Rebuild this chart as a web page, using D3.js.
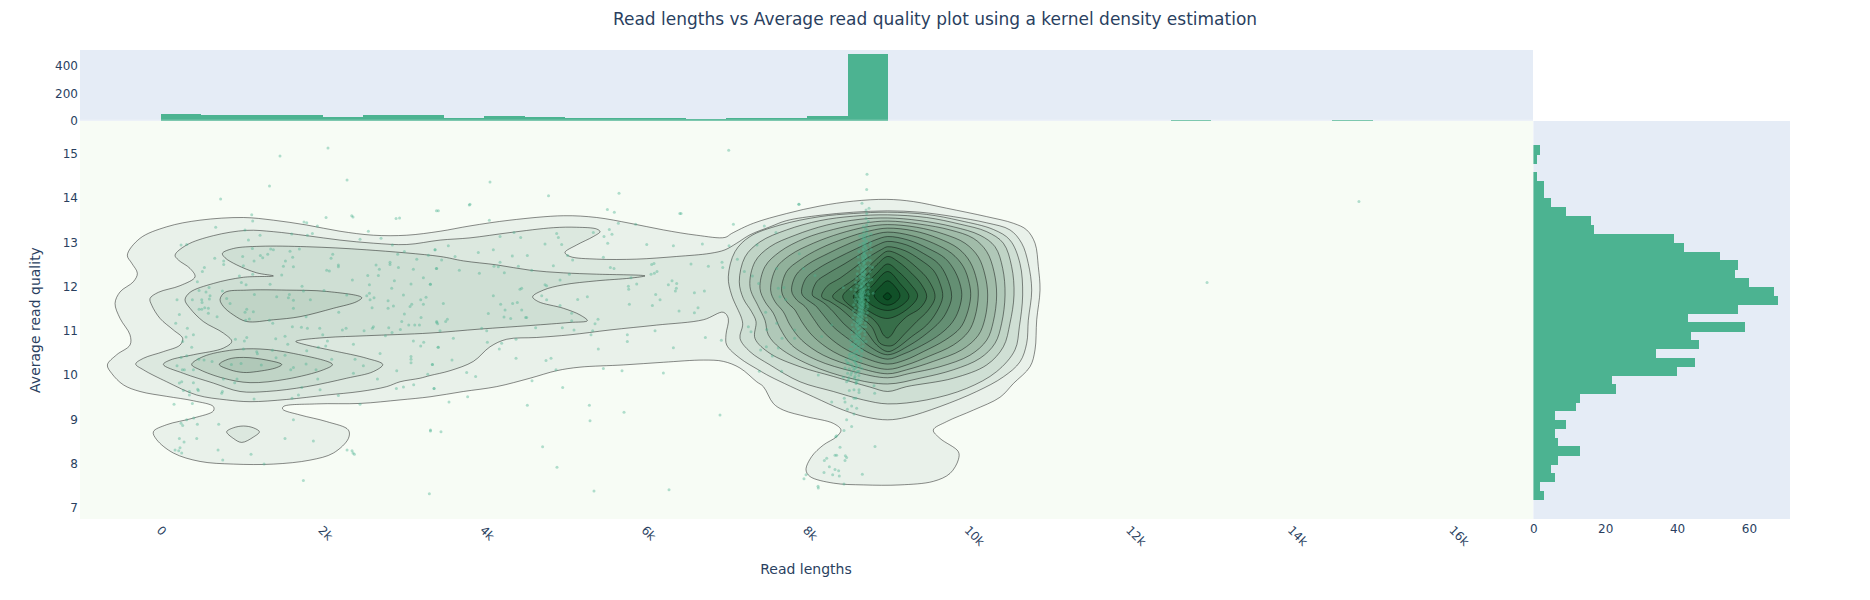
<!DOCTYPE html>
<html lang="en">
<head>
<meta charset="UTF-8">
<title>Read lengths vs Average read quality</title>
<style>
    body { margin: 0; background: #fff; }
    text { font-family: "DejaVu Sans", sans-serif; fill: #2a3f5f; }
    .axis .domain { display: none; }
    .axis line { display: none; }
</style>
</head>
<body>
<svg width="1870" height="600"></svg>
<script src="https://d3js.org/d3.v7.min.js"></script>
<script>
// histogram of read lengths, bins of 500 starting at 0
var lengthBinStart = 0, lengthBinSize = 500;
var lengthCounts = [48,41,41,41,26,41,41,19,33,26,19,19,19,12,19,19,34,485,0,0,0,0,0,0,0,1,0,0,0,1];
// histogram of average quality, bins of 0.2 starting at 7.2
var qualBinStart = 7.2, qualBinSize = 0.2;
var qualCounts = [3,2,6,5,7,13,7,6,9,6,12,13,23,22,40,45,34,46,44,59,43,57,68,67,60,56,57,52,42,39,17,16,9,5,3,3,1,0,1,2];

var xTicks = [0,2000,4000,6000,8000,10000,12000,14000,16000];
var yTicks = [7,8,9,10,11,12,13,14,15];
var topTicks = [0,200,400];
var rightTicks = [0,20,40,60];

// kde contour outlines, as [read length, quality]
var level1 = [[-417,12.72],[-260,13.10],[70,13.36],[483,13.51],[1020,13.57],[1391,13.51],[1804,13.40],[2216,13.26],[2629,13.17],[3042,13.17],[3455,13.26],[3825,13.38],[4320,13.51],[4981,13.61],[5394,13.57],[5806,13.44],[6219,13.29],[6632,13.17],[6982,13.12],[7065,13.21],[7333,13.44],[7745,13.66],[8158,13.83],[8571,13.94],[8984,13.98],[9314,13.93],[9726,13.78],[10222,13.59],[10552,13.44],[10717,13.29],[10820,12.99],[10861,12.46],[10882,11.93],[10841,11.26],[10820,10.58],[10758,10.20],[10552,9.82],[10387,9.51],[10057,9.22],[9726,8.96],[9561,8.77],[9644,8.58],[9871,8.28],[9871,8.10],[9768,7.79],[9561,7.61],[9149,7.53],[8695,7.53],[8323,7.57],[8034,7.72],[7985,7.87],[8055,8.17],[8199,8.43],[8364,8.62],[8418,8.77],[8323,8.92],[7993,9.07],[7704,9.22],[7580,9.37],[7457,9.75],[7374,9.86],[7168,10.17],[6962,10.32],[6714,10.35],[6219,10.30],[5724,10.24],[5187,10.19],[4898,10.11],[4568,9.94],[4155,9.75],[3743,9.64],[3330,9.52],[2959,9.45],[2464,9.37],[1928,9.36],[1515,9.30],[1507,9.24],[1721,9.11],[2051,8.96],[2320,8.77],[2320,8.58],[2134,8.25],[1845,8.09],[1391,8.00],[896,8.00],[483,8.06],[153,8.25],[-53,8.55],[-95,8.73],[70,8.89],[401,9.04],[648,9.20],[648,9.30],[401,9.43],[70,9.53],[-260,9.64],[-466,9.79],[-611,10.05],[-664,10.24],[-549,10.47],[-384,10.69],[-384,10.92],[-507,11.29],[-569,11.63],[-507,11.89],[-342,12.12],[-293,12.31],[-363,12.54]];
var level2 = [[174,12.72],[318,12.95],[648,13.16],[1061,13.28],[1391,13.25],[1804,13.16],[2216,13.06],[2629,12.99],[3042,12.96],[3455,13.06],[3825,13.11],[4320,13.23],[4857,13.34],[5146,13.35],[5394,13.31],[5435,13.25],[5352,13.14],[5146,12.95],[5001,12.78],[5063,12.69],[5394,12.63],[5889,12.63],[6384,12.69],[6797,12.76],[6982,12.84],[7127,12.99],[7292,13.18],[7540,13.36],[7745,13.50],[8158,13.62],[8571,13.69],[8996,13.72],[9396,13.69],[9809,13.59],[10222,13.45],[10510,13.29],[10655,12.99],[10737,12.53],[10779,11.93],[10737,11.25],[10717,10.73],[10634,10.31],[10428,9.97],[10098,9.64],[9644,9.30],[9231,9.06],[8996,9.00],[8736,9.06],[8447,9.22],[8076,9.52],[7539,9.98],[7395,10.13],[7168,10.39],[7003,10.69],[6994,10.92],[7023,11.29],[6961,11.43],[6714,11.26],[6136,11.14],[5559,11.03],[5063,10.92],[4651,10.86],[4279,10.82],[4073,10.65],[3867,10.32],[3578,10.11],[3330,10.00],[3207,9.94],[2959,9.86],[2794,9.75],[2464,9.64],[2051,9.56],[1556,9.46],[1102,9.41],[813,9.45],[442,9.56],[70,9.86],[-218,10.13],[-313,10.26],[-218,10.39],[29,10.54],[236,10.69],[268,10.84],[153,11.03],[-12,11.29],[-115,11.59],[-136,11.74],[-33,11.88],[236,12.03],[421,12.23],[359,12.42],[215,12.61]];
var level2Lobe = [[813,8.73],[896,8.82],[1020,8.86],[1143,8.82],[1218,8.73],[1143,8.61],[999,8.49],[896,8.58]];
var level3Left = [[760,12.76],[896,12.87],[1226,12.92],[1804,12.91],[2547,12.84],[3455,12.69],[3743,12.59],[4155,12.50],[4568,12.38],[4981,12.32],[5394,12.29],[5971,12.26],[5992,12.25],[5806,12.20],[5394,12.14],[4981,12.05],[4733,11.93],[4601,11.78],[4671,11.67],[4981,11.52],[5187,11.37],[5278,11.24],[5063,11.20],[4568,11.13],[3949,11.05],[3330,10.96],[2547,10.90],[2051,10.86],[1721,10.80],[1668,10.77],[1804,10.69],[2134,10.56],[2547,10.39],[2745,10.25],[2629,10.09],[2299,9.94],[1804,9.75],[1309,9.64],[978,9.64],[648,9.83],[277,10.05],[29,10.25],[112,10.35],[401,10.47],[772,10.62],[875,10.77],[772,10.96],[524,11.22],[359,11.52],[297,11.71],[359,11.88],[648,12.08],[1020,12.22],[1391,12.25],[1185,12.32],[937,12.50],[793,12.66]];
var level4Upper = [[731,11.72],[793,11.88],[1061,11.93],[1556,11.93],[2051,11.90],[2485,11.76],[2423,11.67],[2134,11.52],[1721,11.33],[1391,11.26],[1061,11.22],[896,11.37],[772,11.56]];
var level4Lower = [[380,10.25],[524,10.43],[896,10.58],[1226,10.60],[1639,10.50],[2122,10.25],[2010,10.13],[1556,9.92],[1102,9.84],[772,9.94],[483,10.13]];
var level5Left = [[722,10.25],[834,10.37],[1020,10.41],[1309,10.35],[1494,10.25],[1432,10.18],[1185,10.09],[1020,10.07],[855,10.13]];
var level3 = [[7023,12.23],[7106,12.80],[7291,13.14],[7663,13.40],[8158,13.59],[8571,13.66],[8996,13.69],[9479,13.64],[9891,13.50],[10304,13.30],[10510,13.06],[10634,12.53],[10667,11.82],[10626,11.10],[10572,10.58],[10345,10.09],[9974,9.71],[9479,9.45],[8996,9.36],[8695,9.45],[8323,9.64],[7910,9.86],[7539,10.24],[7291,10.54],[7168,10.84],[7201,11.14],[7188,11.29],[7064,11.82]];
var level4 = [[7159,12.12],[7230,12.68],[7415,13.02],[7745,13.29],[8158,13.50],[8571,13.60],[8996,13.63],[9479,13.57],[9891,13.42],[10222,13.25],[10428,12.99],[10531,12.46],[10560,11.82],[10510,11.18],[10428,10.65],[10222,10.24],[9809,9.94],[9231,9.75],[8996,9.64],[8777,9.74],[8323,9.98],[7910,10.20],[7539,10.50],[7353,10.84],[7366,11.22],[7312,11.44],[7209,11.74]];
var level5 = [[7291,12.01],[7353,12.57],[7539,12.91],[7849,13.17],[8241,13.40],[8653,13.53],[8996,13.56],[9396,13.50],[9809,13.36],[10139,13.17],[10325,12.91],[10420,12.42],[10449,11.82],[10407,11.18],[10325,10.73],[10139,10.39],[9809,10.13],[9396,9.94],[8996,9.81],[8530,9.94],[8034,10.24],[7663,10.62],[7518,10.92],[7477,11.25],[7395,11.56]];
var level6 = [[7415,11.97],[7477,12.46],[7663,12.80],[7972,13.10],[8323,13.30],[8695,13.44],[8996,13.49],[9396,13.42],[9768,13.29],[10057,13.10],[10222,12.80],[10312,12.35],[10345,11.82],[10304,11.22],[10222,10.80],[10015,10.46],[9644,10.20],[9272,10.05],[8996,9.95],[8571,10.09],[8117,10.35],[7807,10.69],[7663,11.07],[7580,11.41],[7477,11.67]];
var level7 = [[7547,11.93],[7613,12.42],[7787,12.72],[8076,12.99],[8406,13.21],[8736,13.36],[8996,13.41],[9355,13.35],[9685,13.20],[9953,12.99],[10118,12.68],[10201,12.27],[10234,11.82],[10201,11.29],[10118,10.91],[9912,10.58],[9561,10.32],[9231,10.13],[8996,10.04],[8612,10.19],[8199,10.46],[7931,10.80],[7787,11.14],[7704,11.44],[7601,11.67]];
var level8 = [[7683,11.91],[7745,12.35],[7910,12.61],[8158,12.87],[8468,13.10],[8777,13.27],[8996,13.33],[9314,13.27],[9623,13.10],[9871,12.87],[10015,12.57],[10098,12.16],[10118,11.82],[10077,11.33],[9995,10.99],[9809,10.69],[9499,10.43],[9231,10.24],[8996,10.14],[8653,10.29],[8323,10.54],[8076,10.88],[7931,11.22],[7849,11.48],[7745,11.67]];
var level9 = [[7807,11.91],[7861,12.27],[8014,12.52],[8261,12.76],[8530,12.99],[8798,13.17],[8996,13.24],[9293,13.16],[9561,12.99],[9788,12.76],[9933,12.46],[10007,12.08],[10023,11.78],[9974,11.37],[9891,11.07],[9706,10.80],[9437,10.54],[9211,10.35],[8996,10.26],[8695,10.41],[8426,10.65],[8199,10.99],[8076,11.29],[7972,11.56],[7869,11.71]];
var level10 = [[7931,11.86],[7985,12.20],[8137,12.42],[8364,12.65],[8612,12.87],[8839,13.06],[8996,13.14],[9252,13.06],[9499,12.87],[9706,12.65],[9830,12.35],[9900,12.01],[9912,11.77],[9858,11.40],[9768,11.14],[9603,10.88],[9355,10.62],[9169,10.47],[8996,10.37],[8736,10.54],[8530,10.80],[8323,11.10],[8199,11.37],[8096,11.59],[7993,11.72]];
var level11 = [[8063,11.82],[8117,12.12],[8261,12.31],[8468,12.53],[8674,12.76],[8880,12.96],[8996,13.03],[9231,12.95],[9437,12.76],[9623,12.53],[9726,12.23],[9788,11.78],[9726,11.44],[9644,11.22],[9479,10.95],[9272,10.69],[8996,10.47],[8777,10.65],[8612,10.92],[8447,11.18],[8323,11.44],[8199,11.65],[8117,11.74]];
var level12 = [[8179,11.78],[8241,12.01],[8406,12.20],[8571,12.42],[8757,12.67],[8922,12.85],[8996,12.91],[9211,12.82],[9396,12.62],[9561,12.38],[9644,12.08],[9677,11.78],[9603,11.44],[9479,11.14],[9293,10.88],[9107,10.62],[8996,10.54],[8860,10.69],[8715,11.03],[8550,11.29],[8406,11.52],[8282,11.67]];
var level13 = [[8315,11.78],[8385,11.93],[8571,12.16],[8736,12.42],[8901,12.70],[8996,12.81],[9169,12.70],[9355,12.44],[9499,12.16],[9582,11.78],[9499,11.48],[9355,11.22],[9211,10.95],[9066,10.69],[8996,10.67],[8901,10.73],[8798,11.10],[8653,11.33],[8488,11.56]];
var level14 = [[8439,11.78],[8550,12.01],[8715,12.23],[8860,12.50],[8996,12.69],[9128,12.57],[9293,12.31],[9417,12.05],[9479,11.78],[9396,11.52],[9231,11.33],[9107,11.10],[9045,10.92],[8996,10.85],[8942,10.92],[8880,11.14],[8777,11.33],[8571,11.52]];
var level15 = [[8571,11.78],[8695,12.01],[8860,12.31],[8996,12.52],[9128,12.35],[9272,12.08],[9367,11.80],[9252,11.52],[8996,11.29],[8777,11.44]];
var level16 = [[8703,11.80],[8818,12.05],[8996,12.35],[9149,12.08],[9260,11.78],[9149,11.56],[8996,11.47],[8818,11.57]];
var level17 = [[8827,11.82],[8901,12.01],[8996,12.14],[9087,12.01],[9149,11.80],[9087,11.65],[8996,11.59],[8901,11.65]];
var level18 = [[8942,11.78],[8996,11.87],[9041,11.78],[8996,11.71]];

var contourRings = [
    [1,level1],[2,level2],[2,level2Lobe],[3,level3Left],[4,level4Upper],[4,level4Lower],[5,level5Left],
    [3,level3],[4,level4],[5,level5],[6,level6],[7,level7],[8,level8],[9,level9],[10,level10],
    [11,level11],[12,level12],[13,level13],[14,level14],[15,level15],[16,level16],[17,level17],[18,level18]
];

// scatter of single reads [read length, quality]
var readsLeft = [[1123,13.63],[1135,13.49],[677,13.35],[1040,13.29],[1226,13.17],[1082,13.06],[248,12.95],[318,12.96],[1804,13.45],[2043,13.57],[2361,13.61],[2910,13.55],[1936,13.38],[2567,13.26],[2724,13.10],[2464,13.08],[1874,13.21],[1812,13.17],[1618,13.20],[2864,12.95],[3013,12.80],[2930,12.74],[3310,12.72],[3393,12.84],[1131,12.87],[1358,12.86],[1391,12.84],[1597,12.81],[1713,12.86],[2126,12.74],[2105,12.65],[1630,12.67],[1321,12.74],[1230,12.71],[1259,12.66],[1011,12.69],[1152,12.59],[1540,12.59],[1515,12.47],[1639,12.46],[1020,12.48],[776,12.59],[776,12.51],[665,12.65],[537,12.44],[512,12.35],[970,12.25],[1135,12.29],[1494,12.27],[2051,12.38],[2084,12.36],[2196,12.50],[2196,12.46],[2662,12.50],[2703,12.40],[2835,12.56],[2835,12.51],[2939,12.44],[3124,12.40],[3166,12.63],[3413,12.42],[450,12.12],[995,12.10],[1053,12.05],[1350,12.06],[1746,12.02],[1763,11.91],[2018,11.92],[2369,12.16],[2559,12.26],[2691,12.26],[2580,12.05],[2856,11.97],[2889,12.14],[3095,12.07],[3248,12.21],[3335,12.06],[471,11.92],[557,11.89],[595,11.99],[760,11.91],[607,11.80],[599,11.73],[198,11.71],[388,11.71],[504,11.71],[508,11.65],[813,11.74],[855,11.63],[1156,11.83],[1432,11.78],[1589,11.83],[1577,11.76],[1639,11.70],[1849,11.71],[2299,11.82],[2547,11.80],[2580,11.86],[2637,11.76],[2588,11.71],[2811,11.69],[3001,11.82],[3215,11.71],[3281,11.77],[3248,11.61],[3104,11.61],[3083,11.56],[471,11.50],[504,11.50],[541,11.53],[586,11.52],[586,11.41],[227,11.38],[694,11.33],[1061,11.50],[1040,11.43],[1143,11.44],[1639,11.52],[1796,11.33],[2200,11.43],[2613,11.53],[2811,11.52],[2877,11.57],[3013,11.39],[3219,11.31],[182,11.18],[326,11.07],[401,10.92],[310,10.87],[268,10.77],[380,10.64],[1094,11.28],[1048,11.25],[1342,11.25],[1383,11.18],[1626,11.10],[1738,11.09],[1812,11.07],[1965,11.07],[2002,10.92],[2245,11.03],[2291,11.07],[2514,11.01],[2617,11.07],[2629,11.10],[2819,11.08],[2860,10.97],[2963,11.04],[2980,11.22],[3067,11.14],[3141,11.14],[3199,11.14],[3413,11.22],[921,10.82],[1061,10.86],[1032,10.78],[1420,10.83],[1535,10.89],[1569,10.71],[1804,10.56],[1948,10.64],[2039,10.67],[2060,10.78],[2382,10.71],[2778,10.90],[3124,10.78],[3252,10.75],[3215,10.67],[3434,10.64],[2712,10.50],[1020,10.60],[1185,10.54],[1193,10.49],[1379,10.57],[1535,10.46],[1424,10.40],[2113,10.37],[2402,10.37],[2505,10.22],[3095,10.43],[3095,10.37],[3095,10.29],[3360,10.25],[248,10.41],[318,10.45],[467,10.37],[533,10.35],[632,10.32],[871,10.25],[991,10.27],[1242,10.24],[1796,10.26],[1919,10.13],[1606,10.13],[1639,10.18],[198,10.22],[264,10.13],[289,10.13],[401,10.13],[2918,10.11],[3302,10.03],[2382,10.05],[2679,9.92],[1940,9.92],[772,9.92],[941,9.92],[912,9.84],[256,9.86],[227,9.83],[401,9.84],[351,9.64],[454,9.69],[462,9.66],[760,9.64],[751,9.60],[1742,9.73],[1969,9.68],[2914,9.71],[3001,9.74],[3128,9.79],[3380,9.71],[1701,9.56],[1622,9.49],[1152,9.47],[2196,9.55],[351,9.56],[277,9.66],[161,9.35],[388,9.37],[2464,9.35],[1639,9.00],[405,9.04],[318,9.00],[248,8.92],[268,8.87],[450,8.90],[714,8.90],[227,8.58],[285,8.50],[442,8.58],[1535,8.58],[1886,8.52],[3335,8.75],[235,8.37],[174,8.32],[219,8.30],[256,8.25],[706,8.32],[1114,8.22],[764,8.09],[1276,8.00],[2303,8.32],[2394,8.22],[1762,7.63],[3322,7.33]];
var readsMiddle = [[3433,13.72],[3817,13.85],[4065,13.51],[5526,13.75],[5612,13.69],[6438,13.66],[7086,13.42],[7469,13.38],[5662,13.44],[5876,13.42],[5352,13.23],[5550,13.30],[5484,13.14],[5583,13.19],[5530,12.99],[4898,13.21],[4919,13.12],[4453,13.12],[4197,13.14],[4370,13.23],[4754,12.97],[4960,12.96],[6013,12.96],[6343,12.93],[6702,12.97],[7032,12.93],[3557,12.93],[3392,12.84],[3928,12.78],[4114,12.84],[3640,12.69],[3474,12.61],[4349,12.70],[4535,12.71],[4197,12.56],[4122,12.47],[4176,12.46],[4424,12.47],[4857,12.48],[5034,12.71],[5096,12.61],[5476,12.67],[6074,12.51],[6103,12.53],[6561,12.52],[6776,12.47],[6945,12.56],[6954,12.44],[7135,12.63],[5563,12.44],[5608,12.42],[3408,12.42],[3693,12.38],[3941,12.31],[4250,12.32],[4589,12.38],[5055,12.29],[4940,12.16],[5819,12.21],[6066,12.29],[6107,12.31],[6140,12.35],[5889,12.07],[7222,12.35],[7321,12.25],[5786,12.02],[5790,11.95],[6326,12.14],[6384,12.08],[6281,12.05],[6380,11.97],[6368,11.91],[6603,11.87],[6727,11.91],[6124,11.83],[6178,11.71],[3334,12.06],[4754,12.05],[4774,12.03],[4444,11.95],[4465,11.97],[4114,11.80],[4713,11.80],[4774,11.71],[5158,11.72],[5278,11.78],[4205,11.61],[4353,11.63],[4411,11.65],[3495,11.63],[5798,11.61],[6083,11.58],[6648,11.53],[6603,11.42],[6413,11.46],[4259,11.48],[4465,11.48],[4940,11.58],[5084,11.41],[4052,11.40],[4246,11.32],[4329,11.29],[4514,11.31],[4527,11.31],[3545,11.27],[3524,11.22],[3413,11.20],[3425,11.17],[5084,11.24],[5410,11.27],[5373,11.17],[3970,11.07],[4032,11.01],[3454,11.01],[4638,11.08],[4968,11.08],[5113,11.03],[5344,11.01],[5323,10.92],[6116,11.01],[5773,10.92],[5773,10.77],[6739,10.86],[6937,10.80],[6343,10.63],[5414,10.60],[3619,10.84],[4040,10.75],[4217,10.73],[4395,10.82],[4188,10.60],[3429,10.64],[4395,10.39],[4828,10.39],[4766,10.34],[3602,10.35],[3359,10.25],[4890,10.13],[5476,10.16],[5707,10.11],[6219,10.06],[3784,10.07],[3895,9.98],[4593,9.88],[3380,9.71],[4973,9.73],[3796,9.52],[3565,9.40],[4535,9.33],[5303,9.33],[5732,9.17],[6920,9.11]];
var readsOutliers = [[2067,15.14],[1473,14.96],[2303,14.42],[1343,14.28],[738,13.99],[4073,14.37],[4797,14.06],[5670,14.12],[7028,15.09],[8740,14.55],[14830,13.93],[12950,12.10],[7900,13.87],[6423,13.66],[3410,13.72],[3825,13.87],[2953,13.56],[2377,13.58],[1770,13.47],[5360,7.39],[6289,7.42],[8134,7.50],[4902,7.93],[5311,8.98],[4724,8.39],[3336,8.77],[3466,8.73],[2365,8.30],[2377,8.25]];
var readsPeak = [[8736,14.20],[7894,13.87],[8678,13.89],[7613,13.23],[7378,12.95],[7399,12.08],[7642,11.97],[7712,11.99],[7663,11.78],[7733,11.72],[7485,11.43],[7622,11.18],[7271,11.10],[7304,10.99],[7498,11.04],[7844,11.03],[7844,10.84],[7688,10.84],[7494,10.65],[7642,10.62],[7423,10.58],[7568,10.44],[7407,10.10],[7683,10.10],[8137,10.01],[8303,11.14],[8179,10.88],[7902,12.75],[7952,12.42],[8096,12.26],[7622,12.42],[8839,8.40],[8682,7.77],[8455,7.55],[8137,7.46],[7960,7.67],[7985,7.76],[8208,7.81],[8315,7.76],[8397,7.73],[8344,7.88],[8389,7.85],[8274,7.94],[8241,8.13],[8212,8.08],[8344,8.20],[8364,8.20],[8468,8.08],[8488,8.15],[8472,8.19],[8406,8.38],[8352,8.62],[8364,8.64],[8455,8.76],[8550,8.85],[8488,9.00],[8579,9.13],[8612,9.26],[8550,9.31],[8497,9.24],[8303,9.40],[8459,9.49],[8468,9.40],[8579,9.49],[8604,9.49],[8579,9.68],[8641,9.68],[8641,9.62],[8521,9.66],[8835,9.60],[8827,9.77],[8612,9.84],[8488,9.86],[8447,9.96],[8468,10.17],[8480,10.35],[8818,11.86],[8810,12.44],[8798,12.17],[8447,11.99],[8542,11.95]];
var readsSwarm = [[8765,13.78],[8728,13.74],[8736,13.66],[8728,13.55],[8757,13.48],[8736,13.40],[8695,13.36],[8744,13.29],[8686,13.17],[8715,13.17],[8757,13.14],[8703,13.08],[8736,13.02],[8686,12.99],[8777,12.95],[8715,12.91],[8695,12.84],[8736,12.82],[8703,12.74],[8728,12.68],[8686,12.65],[8744,12.61],[8703,12.55],[8653,12.50],[8728,12.47],[8695,12.42],[8674,12.37],[8719,12.35],[8686,12.29],[8653,12.25],[8719,12.23],[8695,12.19],[8674,12.14],[8736,12.12],[8645,12.08],[8703,12.07],[8674,12.02],[8723,11.99],[8653,11.97],[8695,11.93],[8674,11.89],[8719,11.87],[8645,11.84],[8686,11.82],[8662,11.78],[8715,11.77],[8624,11.74],[8678,11.72],[8653,11.68],[8703,11.67],[8674,11.63],[8633,11.62],[8695,11.59],[8653,11.56],[8686,11.52],[8645,11.48],[8674,11.44],[8703,11.42],[8653,11.39],[8633,11.35],[8682,11.31],[8653,11.27],[8620,11.23],[8674,11.20],[8645,11.17],[8604,11.14],[8695,11.10],[8633,11.06],[8674,11.03],[8645,10.98],[8604,10.95],[8620,10.89],[8653,10.86],[8579,10.83],[8674,10.80],[8612,10.77],[8645,10.73],[8571,10.71],[8728,10.77],[8591,10.67],[8633,10.62],[8550,10.59],[8612,10.56],[8674,10.58],[8571,10.50],[8521,10.47],[8604,10.43],[8633,10.39],[8550,10.37],[8591,10.31],[8497,10.29],[8612,10.24],[8562,10.20],[8591,10.16],[8674,10.16],[8620,10.09],[8550,10.07],[8591,9.98],[8633,9.90],[8509,9.90],[8604,9.82]];
var readsSwarmCore = [[8722,13.31],[8700,13.24],[8735,13.21],[8712,13.12],[8690,13.10],[8728,13.05],[8705,13.00],[8718,12.96],[8698,12.93],[8730,12.88],[8690,12.86],[8712,12.79],[8700,12.76],[8722,12.71],[8682,12.70],[8710,12.66],[8695,12.62],[8718,12.58],[8680,12.57],[8705,12.53],[8692,12.50],[8715,12.46],[8672,12.44],[8702,12.40],[8685,12.38],[8712,12.33],[8668,12.32],[8698,12.30],[8680,12.27],[8708,12.26],[8665,12.21],[8690,12.20],[8702,12.17],[8678,12.16],[8660,12.12],[8712,12.10],[8688,12.10],[8670,12.05],[8698,12.04],[8680,12.00],[8662,12.00],[8708,11.96],[8688,11.95],[8672,11.92],[8652,11.91],[8698,11.90],[8680,11.86],[8660,11.86],[8705,11.84],[8668,11.81],[8690,11.80],[8650,11.80],[8678,11.76],[8696,11.75],[8660,11.74],[8640,11.71],[8685,11.70],[8668,11.69],[8695,11.65],[8648,11.65],[8675,11.62],[8690,11.60],[8660,11.60],[8640,11.58],[8680,11.56],[8668,11.55],[8695,11.54],[8650,11.52],[8672,11.49],[8638,11.47],[8685,11.46],[8660,11.45],[8672,11.41],[8640,11.40],[8690,11.38],[8660,11.37],[8622,11.37],[8672,11.33],[8642,11.32],[8665,11.28],[8620,11.28],[8688,11.26],[8640,11.24],[8660,11.22],[8612,11.20],[8650,11.18],[8630,11.15],[8668,11.12],[8612,11.10],[8645,11.08],[8625,11.05],[8660,11.00],[8600,11.00],[8638,10.96],[8618,10.92],[8650,10.90],[8595,10.88],[8630,10.85],[8605,10.80],[8640,10.78],[8590,10.75],[8625,10.70],[8600,10.66],[8650,10.64],[8580,10.62],[8620,10.55],[8590,10.52],[8640,10.50],[8600,10.45],[8565,10.42],[8615,10.36],[8580,10.33],[8600,10.27],[8545,10.25],[8610,10.19],[8575,10.13],[8600,10.05],[8540,10.02],[8585,9.94],[8605,9.88]];
var readsSwarmEdge = [[8790,13.20],[8650,13.15],[8785,13.00],[8650,12.95],[8790,12.85],[8640,12.80],[8775,12.72],[8630,12.68],[8780,12.60],[8640,12.55],[8770,12.48],[8625,12.42],[8778,12.35],[8620,12.30],[8760,12.24],[8610,12.20],[8770,12.15],[8600,12.10],[8755,12.05],[8615,12.02],[8765,11.98],[8600,11.94],[8750,11.90],[8590,11.85],[8760,11.84],[8610,11.80],[8745,11.76],[8590,11.72],[8755,11.70],[8600,11.66],[8740,11.62],[8575,11.60],[8750,11.56],[8595,11.52],[8730,11.50],[8570,11.46],[8745,11.42],[8590,11.38],[8725,11.35],[8565,11.30],[8735,11.26],[8580,11.22],[8720,11.18],[8555,11.15],[8725,11.10],[8570,11.05],[8710,11.00],[8550,10.97],[8715,10.93],[8560,10.88],[8700,10.84],[8535,10.80],[8695,10.75],[8550,10.70],[8690,10.66],[8530,10.60],[8680,10.55],[8540,10.50],[8670,10.44],[8525,10.40],[8665,10.33],[8510,10.28],[8650,10.22],[8520,10.15],[8640,10.10],[8500,10.05],[8640,10.00],[8515,9.95]];

var svg = d3.select("svg");

var x = d3.scaleLinear().domain([-1003, 16985]).range([80, 1533]);
var y = d3.scaleLinear().domain([6.76, 15.75]).range([519, 121]);
var yTop = d3.scaleLinear().domain([0, 514]).range([120.7, 50]);
var xRight = d3.scaleLinear().domain([0, 71.4]).range([1533.3, 1790]);

var barColor = "#4CB391";

var levelColor = d3.scaleLinear()
    .domain([0, 1, 3, 5, 8, 10, 13, 15, 18])
    .range(["#f7fcf5", "#e9f1ea", "#cfdfd4", "#b0c8b8", "#82a58c", "#648f73", "#467855", "#28643c", "#05461e"]);

// backgrounds
svg.append("rect").attr("x", 80).attr("y", 50).attr("width", 1453).attr("height", 71).attr("fill", "#e5ecf6");
svg.append("rect").attr("x", 1533).attr("y", 121).attr("width", 257).attr("height", 398).attr("fill", "#e5ecf6");
svg.append("rect").attr("x", 80).attr("y", 121).attr("width", 1453).attr("height", 398).attr("fill", "#f7fcf5");

// kde contours, lowest level first so the higher ones paint over
var line = d3.line()
    .x(function(d){ return x(d[0]); })
    .y(function(d){ return y(d[1]); })
    .curve(d3.curveCatmullRomClosed.alpha(0.5));

svg.append("g").selectAll("path")
    .data(contourRings)
    .enter().append("path")
    .attr("d", function(d){ return line(d[1]); })
    .attr("fill", function(d){ return levelColor(d[0]); })
    .attr("stroke", "#000")
    .attr("stroke-opacity", 0.45)
    .attr("stroke-width", 1);

// single reads
var allReads = readsLeft.concat(readsMiddle, readsOutliers, readsPeak, readsSwarm, readsSwarmCore, readsSwarmEdge);
svg.append("g").selectAll("circle")
    .data(allReads)
    .enter().append("circle")
    .attr("cx", function(d){ return x(d[0]); })
    .attr("cy", function(d){ return y(d[1]); })
    .attr("r", 1.5)
    .attr("fill", barColor)
    .attr("fill-opacity", 0.42);

// top histogram
var lengthBars = lengthCounts.map(function(c, i){ return {start: lengthBinStart + i * lengthBinSize, count: c}; })
    .filter(function(d){ return d.count > 0; });
svg.append("g").attr("shape-rendering", "crispEdges").selectAll("rect")
    .data(lengthBars)
    .enter().append("rect")
    .attr("x", function(d){ return x(d.start); })
    .attr("width", function(d){ return x(d.start + lengthBinSize) - x(d.start); })
    .attr("y", function(d){ return yTop(0) - Math.max(1, yTop(0) - yTop(d.count)); })
    .attr("height", function(d){ return Math.max(1, yTop(0) - yTop(d.count)); })
    .attr("fill", barColor);

// right histogram
var qualBars = qualCounts.map(function(c, i){ return {start: qualBinStart + i * qualBinSize, count: c}; })
    .filter(function(d){ return d.count > 0; });
svg.append("g").attr("shape-rendering", "crispEdges").selectAll("rect")
    .data(qualBars)
    .enter().append("rect")
    .attr("x", xRight(0))
    .attr("width", function(d){ return xRight(d.count) - xRight(0); })
    .attr("y", function(d){ return y(d.start + qualBinSize); })
    .attr("height", function(d){ return y(d.start) - y(d.start + qualBinSize) + 0.5; })
    .attr("fill", barColor);

// zero lines
svg.append("line").attr("x1", 80).attr("x2", 1533).attr("y1", 120.2).attr("y2", 120.2)
    .attr("stroke", "#fff").attr("stroke-opacity", 0.4);
svg.append("line").attr("x1", 1533.5).attr("x2", 1533.5).attr("y1", 121).attr("y2", 519)
    .attr("stroke", "#fff").attr("stroke-opacity", 0.4);

// axes
var xAxis = svg.append("g").attr("class", "axis").attr("transform", "translate(0,519)")
    .call(d3.axisBottom(x).tickValues(xTicks).tickFormat(d3.format("~s")).tickSize(0));
xAxis.selectAll("text")
    .attr("text-anchor", "start")
    .attr("x", 0).attr("y", 0).attr("dy", "0.35em")
    .attr("transform", "translate(-2.5,9) rotate(45)")
    .style("font-size", "12px");

var yAxis = svg.append("g").attr("class", "axis").attr("transform", "translate(80,0)")
    .call(d3.axisLeft(y).tickValues(yTicks).tickFormat(d3.format("d")).tickSize(0).tickPadding(2));
yAxis.selectAll("text").attr("dy", "0.28em").style("font-size", "12px");

var topAxis = svg.append("g").attr("class", "axis").attr("transform", "translate(80,0)")
    .call(d3.axisLeft(yTop).tickValues(topTicks).tickFormat(d3.format("d")).tickSize(0).tickPadding(2));
topAxis.selectAll("text").style("font-size", "12px");

var rightAxis = svg.append("g").attr("class", "axis").attr("transform", "translate(0,519)")
    .call(d3.axisBottom(xRight).tickValues(rightTicks).tickFormat(d3.format("d")).tickSize(0).tickPadding(5));
rightAxis.selectAll("text").style("font-size", "12px");

// titles
svg.append("text").attr("x", 935).attr("y", 25).attr("text-anchor", "middle")
    .style("font-size", "17px")
    .text("Read lengths vs Average read quality plot using a kernel density estimation");
svg.append("text").attr("x", 806).attr("y", 574).attr("text-anchor", "middle")
    .style("font-size", "14px")
    .text("Read lengths");
svg.append("text").attr("transform", "translate(40,320) rotate(-90)").attr("text-anchor", "middle")
    .style("font-size", "14px")
    .text("Average read quality");
</script>
</body>
</html>
